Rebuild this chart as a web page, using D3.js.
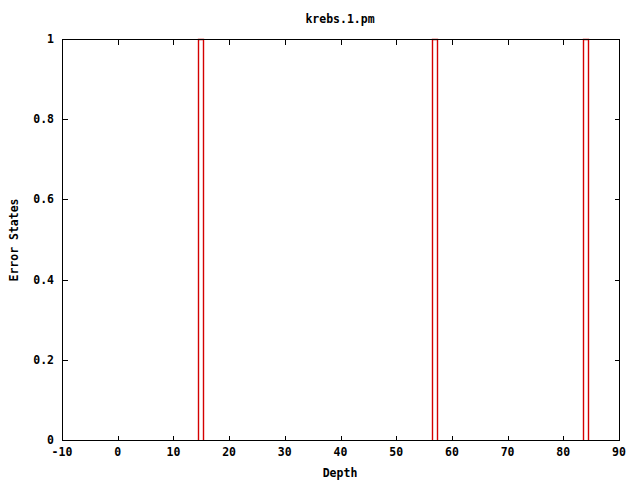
<!DOCTYPE html>
<html>
<head>
<meta charset="utf-8">
<script src="https://cdn.jsdelivr.net/npm/d3@7/dist/d3.min.js"></script>
<style>
html,body{margin:0;padding:0;background:#fff;}
svg text{font-family:"DejaVu Sans Mono","Liberation Mono",monospace;font-weight:bold;font-size:11.5px;fill:#000;}
</style>
</head>
<body>
<script>
const title = "krebs.1.pm";
const xLabel = "Depth";
const yLabel = "Error States";
const xTicks = [-10,0,10,20,30,40,50,60,70,80,90];
const yTicks = [0,0.2,0.4,0.6,0.8,1];
const yTickLabels = ["0","0.2","0.4","0.6","0.8","1"];
// error state intervals (depth start, depth end, value)
const boxStart = [14.42, 56.43, 83.54];
const boxEnd   = [15.31, 57.33, 84.43];
const boxValue = [1, 1, 1];

const W = 640, H = 480;
const L = 62, R = 619, T = 39, B = 440;
const svg = d3.select("body").append("svg").attr("width", W).attr("height", H);

const x = d3.scaleLinear().domain([-10, 90]).range([L, R]);
const y = d3.scaleLinear().domain([0, 1]).range([B, T]);
const px = v => Math.round(v) + 0.5;

// data boxes (drawn first, border on top)
const boxes = boxStart.map((s, i) => ({s, e: boxEnd[i], v: boxValue[i]}));
const g = svg.append("g");
boxes.forEach(d => {
  const p = d3.path();
  p.moveTo(px(x(d.s)), px(y(0)));
  p.lineTo(px(x(d.s)), px(y(d.v)));
  p.lineTo(px(x(d.e)), px(y(d.v)));
  p.lineTo(px(x(d.e)), px(y(0)));
  g.append("path").attr("d", p.toString()).attr("fill", "none")
    .attr("stroke", "#d40000").attr("stroke-width", 1.4);
});

const tl = 5;
const axes = svg.append("g").attr("stroke", "#000").attr("stroke-width", 1)
  .attr("shape-rendering", "crispEdges");
xTicks.forEach(t => {
  const xx = px(x(t));
  axes.append("line").attr("x1", xx).attr("x2", xx).attr("y1", px(B)).attr("y2", px(B) - tl);
  axes.append("line").attr("x1", xx).attr("x2", xx).attr("y1", px(T)).attr("y2", px(T) + tl);
});
yTicks.forEach(t => {
  const yy = px(y(t));
  axes.append("line").attr("x1", px(L)).attr("x2", px(L) + tl).attr("y1", yy).attr("y2", yy);
  axes.append("line").attr("x1", px(R)).attr("x2", px(R) - tl).attr("y1", yy).attr("y2", yy);
});
axes.append("rect").attr("x", px(L)).attr("y", px(T)).attr("width", Math.round(R) - Math.round(L))
  .attr("height", Math.round(B) - Math.round(T)).attr("fill", "none");

xTicks.forEach(t => {
  svg.append("text").attr("x", x(t)).attr("y", 456).attr("text-anchor", "middle").text(t);
});
yTicks.forEach((t, i) => {
  svg.append("text").attr("x", 54).attr("y", y(t) + 4).attr("text-anchor", "end").text(yTickLabels[i]);
});

svg.append("text").attr("x", 340).attr("y", 23).attr("text-anchor", "middle").text(title);
svg.append("text").attr("x", 340).attr("y", 477).attr("text-anchor", "middle").text(xLabel);
svg.append("text").attr("transform", "translate(18,240) rotate(-90)").attr("text-anchor", "middle").text(yLabel);
</script>
</body>
</html>
